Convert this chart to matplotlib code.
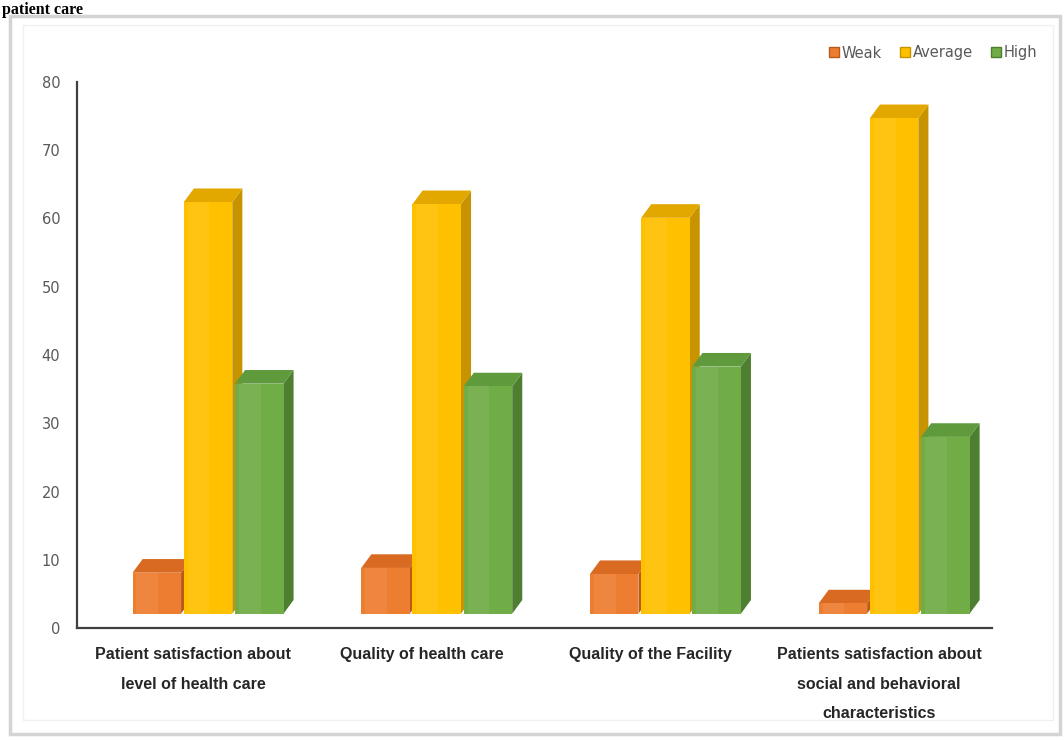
import matplotlib.pyplot as plt
import numpy as np
from matplotlib.patches import Polygon, Rectangle
from matplotlib.lines import Line2D
from matplotlib.transforms import ScaledTranslation

# === DATA ===
categories = [
    "Patient satisfaction about\nlevel of health care",
    "Quality of health care",
    "Quality of the Facility",
    "Patients satisfaction about\nsocial and behavioral\ncharacteristics",
]
series_names = ["Weak", "Average", "High"]
weak = [6.0, 6.7, 5.8, 1.5]
average = [60.3, 60.0, 58.0, 72.6]
high = [33.7, 33.3, 36.2, 25.9]
yticks = [0, 10, 20, 30, 40, 50, 60, 70, 80]

# front, side, top colours per series
front_cols = ["#ED7D31", "#FFC000", "#70AD47"]
side_cols = ["#B85A1A", "#C79400", "#4E7F30"]
top_cols = ["#D96A22", "#E3A800", "#5F9A3C"]

BAR_W = 0.212
STEP = 0.224
DEPTH_X = 0.044   # side depth in x units
DEPTH_Y = 2.0     # cap rise in value units
FLOOR = 2.1       # bars sit above the axis line


# === DRAW_BAR3D ===
# Draw a pseudo-3D column: front face, right side and top.
def draw_bar3d(ax, xc, val, k):
    x0 = xc - BAR_W / 2
    x1 = xc + BAR_W / 2
    y0 = FLOOR
    y1 = FLOOR + val
    side = Polygon([(x1, y0), (x1 + DEPTH_X, y0 + DEPTH_Y), (x1 + DEPTH_X, y1 + DEPTH_Y), (x1, y1)],
                   closed=True, facecolor=side_cols[k], edgecolor="none", zorder=3)
    top = Polygon([(x0, y1), (x0 + DEPTH_X, y1 + DEPTH_Y), (x1 + DEPTH_X, y1 + DEPTH_Y), (x1, y1)],
                  closed=True, facecolor=top_cols[k], edgecolor="none", zorder=3)
    front = Rectangle((x0, y0), BAR_W, val, facecolor=front_cols[k], edgecolor="none", zorder=3)
    ax.add_patch(side)
    ax.add_patch(top)
    ax.add_patch(front)
    # soft highlight on the left part of the front face
    hl = Rectangle((x0 + BAR_W * 0.08, y0), BAR_W * 0.45, val, facecolor="white", alpha=0.07,
                   edgecolor="none", zorder=3)
    ax.add_patch(hl)


fig = plt.figure(figsize=(10.64, 7.40), dpi=100)
W, H = 1064.0, 740.0

# outer frame
fig.patches.append(Rectangle((10 / W, 6 / H), 1050 / W, 718 / H, transform=fig.transFigure,
                             facecolor="none", edgecolor="#d4d4d4", lw=2.5))
fig.patches.append(Rectangle((23 / W, 20 / H), 1030 / W, 695 / H, transform=fig.transFigure,
                             facecolor="none", edgecolor="#f0f0f0", lw=1.0))

# heading from the page above (cropped in the source)
fig.text(0.002, 1 - 2 / H, "patient care", fontsize=11.5, fontweight="bold",
         family=["Liberation Serif", "DejaVu Serif"], ha="left", va="top", color="black")

ax = fig.add_axes([77 / W, (H - 628) / H, 915 / W, 546 / H])
ax.set_xlim(-0.573, 3.428)
ax.set_ylim(0, 80)

series = [weak, average, high]
x = np.arange(len(categories))
for i in range(len(categories)):
    for k in range(3):
        draw_bar3d(ax, x[i] + (k - 1) * STEP, series[k][i], k)

for s in ["top", "right"]:
    ax.spines[s].set_visible(False)
for s in ["left", "bottom"]:
    ax.spines[s].set_color("#404040")
    ax.spines[s].set_linewidth(1.6)

ax.set_yticks(yticks)
ax.tick_params(axis="y", length=0, pad=12, labelsize=10.5, labelcolor="#595959")
ax.set_xticks(x)
ax.set_xticklabels(categories, fontsize=11.5, fontweight="bold", color="#262626",
                   family=["Liberation Sans Narrow", "Liberation Sans", "DejaVu Sans"],
                   linespacing=2.2)
ax.tick_params(axis="x", length=0, pad=14)
shift = ScaledTranslation(-15 / 100, 0, fig.dpi_scale_trans)
for lab in ax.get_xticklabels():
    lab.set_transform(lab.get_transform() + shift)

handles = [Line2D([], [], marker="s", linestyle="none", markersize=7, markerfacecolor=c,
                  markeredgecolor=sc) for c, sc in zip(front_cols, side_cols)]
fig.legend(handles, series_names, loc="center right", bbox_to_anchor=(1050 / W, 1 - 53 / H),
           ncol=3, frameon=False, fontsize=10.5, labelcolor="#595959", handletextpad=0.1,
           columnspacing=1.2, handlelength=0.8)

fig.savefig("out.png", dpi=100)
